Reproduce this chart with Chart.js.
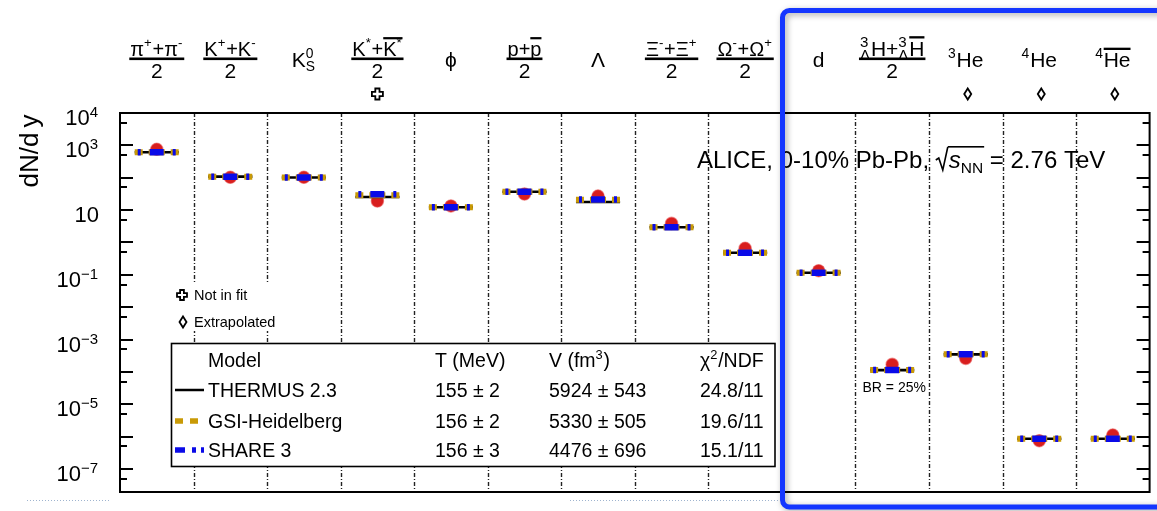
<!DOCTYPE html>
<html>
<head>
<meta charset="utf-8">
<script src="https://cdn.jsdelivr.net/npm/chart.js@4.4.1/dist/chart.umd.min.js"></script>
<style>
  html, body { margin: 0; padding: 0; background: #fff; }
  canvas { display: block; }
</style>
</head>
<body>
<canvas id="c" width="1157" height="511"></canvas>
<script>
// Particle species (TLatex-like markup: ^{} sup, _{} sub, #bar{} overline, #frac{}{})
const categories = [
  '#frac{π^{+}+π^{-}}{2}', '#frac{K^{+}+K^{-}}{2}', 'K^{0}_{S}', '#frac{K^{*}+#bar{K^{*}}}{2}',
  'ϕ', '#frac{p+#bar{p}}{2}', 'Λ', '#frac{Ξ^{-}+Ξ^{+}}{2}', '#frac{Ω^{-}+Ω^{+}}{2}',
  'd', '#frac{^{3}_{Λ}H+^{3}_{Λ}#bar{H}}{2}', '^{3}He', '^{4}He', '^{4}#bar{He}'
];
// marker under a species: 'cross' = not in fit, 'diamond' = extrapolated
const categoryMarks = ['', '', '', 'cross', '', '', '', '', '', '', '', 'diamond', 'diamond', 'diamond'];

// Measured yields dN/dy
const measured = [755, 103, 103, 19.1, 13.4, 31.4, 27.2, 3.9, 0.66, 0.134, 1.71e-4, 2.63e-4, 7.5e-7, 1.12e-6];
// Thermal model yields
const thermus = [611, 108, 102, 25.4, 12.2, 37, 17.8, 2.94, 0.48, 0.116, 1.14e-4, 3.49e-4, 8.6e-7, 8.6e-7];
const gsiHeidelberg = [611, 108, 102, 28.6, 12.2, 37, 20.9, 2.94, 0.48, 0.116, 1.14e-4, 3.49e-4, 8.6e-7, 8.6e-7];
const share3 = [611, 108, 102, 30.7, 12.2, 37, 21.3, 2.94, 0.48, 0.116, 1.14e-4, 3.49e-4, 8.6e-7, 8.6e-7];

// Y axis: labelled decades (exponents) and tick decades
const yLabelExponents = [4, 3, 1, -1, -3, -5, -7];
const yMajorExponents = [-7, -6, -5, -4, -3, -2, -1, 0, 1, 2, 3];
const yMinorExponents = [-8, -7, -6, -5, -4, -3, -2, -1, 0, 1, 2, 3];   // ticks at 5×10^n

// Fit summary table
const tableHeader = ['Model', 'T (MeV)', 'V (fm^{3})', 'χ^{2}/NDF'];
const modelNames = ['THERMUS 2.3', 'GSI-Heidelberg', 'SHARE 3'];
const modelT = ['155 ± 2', '156 ± 2', '156 ± 3'];
const modelV = ['5924 ± 543', '5330 ± 505', '4476 ± 696'];
const modelChi2 = ['24.8/11', '19.6/11', '15.1/11'];

const FONT = '"Liberation Sans", Arial, Helvetica, sans-serif';
const GOLD = '#c99a06';
const BLUE = '#0a0ae8';
const RED = '#d81e1e';

// ---------- tiny TLatex-like text renderer ----------
function parseTex(s) {
  let i = 0;
  function group() {
    if (s[i] === '{') { i++; const n = seq('}'); i++; return n; }
    return [{ t: 'text', s: s[i++] }];
  }
  function seq(end) {
    const nodes = [];
    let buf = '';
    const flush = () => { if (buf) { nodes.push({ t: 'text', s: buf }); buf = ''; } };
    while (i < s.length && s[i] !== end) {
      const c = s[i];
      if (c === '^' || c === '_') { flush(); i++; nodes.push({ t: c === '^' ? 'sup' : 'sub', c: group() }); }
      else if (s.startsWith('#frac', i)) { flush(); i += 5; const a = group(); const b = group(); nodes.push({ t: 'frac', num: a, den: b }); }
      else if (s.startsWith('#bar', i)) { flush(); i += 4; nodes.push({ t: 'bar', c: group() }); }
      else { buf += c; i++; }
    }
    flush();
    return nodes;
  }
  return seq(undefined);
}

function runTex(ctx, nodes, x, y, size, draw, opt) {
  opt = opt || {};
  const supScale = opt.supScale || 0.66;
  let w = 0;
  for (let k = 0; k < nodes.length; k++) {
    const n = nodes[k];
    if (n.t === 'text') {
      ctx.font = `${opt.italic ? 'italic ' : ''}${size}px ${FONT}`;
      if (draw) ctx.fillText(n.s, x + w, y);
      w += ctx.measureText(n.s).width;
    } else if (n.t === 'sup' || n.t === 'sub') {
      const nx = nodes[k + 1];
      const pair = nx && (nx.t === 'sup' || nx.t === 'sub') && nx.t !== n.t;
      const sup = n.t === 'sup' ? n : (pair ? nx : null);
      const sub = n.t === 'sub' ? n : (pair ? nx : null);
      const ss = size * supScale;
      let ws = 0, wb = 0;
      if (sup) ws = runTex(ctx, sup.c, x + w, y - size * 0.42, ss, draw, opt);
      if (sub) wb = runTex(ctx, sub.c, x + w, y + size * 0.2, ss, draw, opt);
      w += Math.max(ws, wb) + size * 0.04;
      if (pair) k++;
    } else if (n.t === 'bar') {
      const bw = runTex(ctx, n.c, x + w, y, size, draw, opt);
      if (draw) ctx.fillRect(x + w, y - size * 0.92, bw, Math.max(2, size * 0.11));
      w += bw;
    } else if (n.t === 'frac') {
      const wn = runTex(ctx, n.num, 0, 0, size, false, opt);
      const wd = runTex(ctx, n.den, 0, 0, size, false, opt);
      w += Math.max(wn, wd);
    }
  }
  return w;
}

function drawTex(ctx, str, x, y, size, opt) { return runTex(ctx, parseTex(str), x, y, size, true, opt); }

// ---------- marker symbols ----------
function drawCross(ctx, cx, cy, r) {
  const a = r * 0.38;
  ctx.beginPath();
  ctx.moveTo(cx - a, cy - r); ctx.lineTo(cx + a, cy - r); ctx.lineTo(cx + a, cy - a);
  ctx.lineTo(cx + r, cy - a); ctx.lineTo(cx + r, cy + a); ctx.lineTo(cx + a, cy + a);
  ctx.lineTo(cx + a, cy + r); ctx.lineTo(cx - a, cy + r); ctx.lineTo(cx - a, cy + a);
  ctx.lineTo(cx - r, cy + a); ctx.lineTo(cx - r, cy - a); ctx.lineTo(cx - a, cy - a);
  ctx.closePath();
  ctx.lineWidth = 1.8; ctx.strokeStyle = '#000'; ctx.stroke();
}
function drawDiamond(ctx, cx, cy, w, h) {
  ctx.beginPath();
  ctx.moveTo(cx, cy - h); ctx.lineTo(cx + w, cy); ctx.lineTo(cx, cy + h); ctx.lineTo(cx - w, cy);
  ctx.closePath();
  ctx.lineWidth = 1.8; ctx.strokeStyle = '#000'; ctx.stroke();
}

// ---------- model segments: one short horizontal bar per species ----------
function bars(values) {
  const out = [];
  values.forEach((v, i) => { out.push({ x: i - 0.3, y: v }, { x: i + 0.3, y: v }, { x: i + 0.5, y: null }); });
  return out;
}

// ---------- frame, separators, axis ticks and annotations ----------
const decorations = {
  id: 'decorations',
  beforeDatasetsDraw(chart) {
    const { ctx, chartArea: a, scales: { x } } = chart;
    ctx.save();
    ctx.strokeStyle = '#222';
    ctx.lineWidth = 1.4;
    ctx.setLineDash([4, 2, 1, 2]);
    for (let i = 0; i < categories.length - 1; i++) {
      const px = Math.round(x.getPixelForValue(i + 0.5)) + 0.5;
      ctx.beginPath(); ctx.moveTo(px, a.top); ctx.lineTo(px, a.bottom); ctx.stroke();
    }
    ctx.restore();
  },
  afterDatasetsDraw(chart) {
    const { ctx, chartArea: a, scales: { x, y } } = chart;
    ctx.save();
    ctx.fillStyle = '#000';
    ctx.strokeStyle = '#000';

    // frame
    ctx.lineWidth = 2;
    ctx.strokeRect(a.left, a.top, a.right - a.left, a.bottom - a.top);

    // y ticks on both sides (inward)
    const tick = (v, len) => {
      const py = Math.round(y.getPixelForValue(v));
      if (py <= a.top + 1 || py >= a.bottom - 1) return;
      ctx.beginPath();
      ctx.moveTo(a.left, py); ctx.lineTo(a.left + len, py);
      ctx.moveTo(a.right, py); ctx.lineTo(a.right - len, py);
      ctx.stroke();
    };
    yMajorExponents.forEach(e => tick(Math.pow(10, e), 13));
    yMinorExponents.forEach(e => tick(5 * Math.pow(10, e), 7));

    // y tick labels
    ctx.textBaseline = 'alphabetic';
    ctx.textAlign = 'left';
    yLabelExponents.forEach(e => {
      const py = y.getPixelForValue(Math.pow(10, e));
      const base = py + 12;
      ctx.font = `22px ${FONT}`;
      const wBase = ctx.measureText('10').width;
      if (e === 1) {
        ctx.fillText('10', 99 - wBase, base);
      } else {
        const sup = String(e).replace('-', '−');
        ctx.font = `15px ${FONT}`;
        const wSup = ctx.measureText(sup).width;
        ctx.font = `22px ${FONT}`;
        ctx.fillText('10', 98 - wSup - wBase, base);
        ctx.font = `15px ${FONT}`;
        ctx.fillText(sup, 98 - wSup, base - 8);
      }
    });

    // y axis title
    ctx.save();
    ctx.translate(38, 151);
    ctx.rotate(-Math.PI / 2);
    ctx.font = `26px ${FONT}`;
    ctx.textAlign = 'center';
    ctx.fillText('dN/d\u2009y', 0, 0);
    ctx.restore();

    // species labels above the frame
    categories.forEach((lab, i) => {
      const cx = x.getPixelForValue(i);
      const nodes = parseTex(lab);
      if (nodes.length === 1 && nodes[0].t === 'frac') {
        const f = nodes[0];
        const opt = { supScale: i === 10 ? 0.72 : 0.66 };
        const sz = i === 10 ? 21 : 20;
        const wn = runTex(ctx, f.num, 0, 0, sz, false, opt);
        const wd = runTex(ctx, f.den, 0, 0, 21, false);
        const bw = Math.max(wn, wd) + 2;
        runTex(ctx, f.num, cx - wn / 2, 55.5, sz, true, opt);
        ctx.fillRect(cx - bw / 2, 57.5, bw, 2.6);
        runTex(ctx, f.den, cx - wd / 2, 78, 21, true);
      } else {
        const w = runTex(ctx, nodes, 0, 0, 21, false);
        runTex(ctx, nodes, cx - w / 2, 67, 21, true);
      }
      if (categoryMarks[i] === 'cross') drawCross(ctx, cx, 94, 5.5);
      if (categoryMarks[i] === 'diamond') drawDiamond(ctx, cx + 2, 94, 3.5, 5.5);
    });

    // branching ratio note under the hypertriton bar
    ctx.font = `14px ${FONT}`;
    ctx.textAlign = 'center';
    ctx.fillText('BR = 25%', x.getPixelForValue(10) + 2, 392);
    ctx.textAlign = 'left';

    // collision system
    {
      let px = 697;
      const base = 168;
      ctx.font = `24px ${FONT}`;
      ctx.fillText('ALICE, 0-10% Pb-Pb, ', px, base);
      px += ctx.measureText('ALICE, 0-10% Pb-Pb, ').width;
      // square-root sign
      ctx.lineWidth = 1.6;
      ctx.beginPath();
      ctx.moveTo(px, base - 8); ctx.lineTo(px + 3, base - 10);
      ctx.lineTo(px + 7, base + 2); ctx.lineTo(px + 12, base - 21);
      ctx.stroke();
      const x0 = px + 12;
      px = x0 + 1;
      ctx.font = `italic 24px ${FONT}`;
      ctx.fillText('s', px, base);
      px += ctx.measureText('s').width;
      ctx.font = `15.5px ${FONT}`;
      ctx.fillText('NN', px, base + 5);
      px += ctx.measureText('NN').width;
      ctx.fillRect(x0, base - 22, px - x0 + 1, 1.6);
      ctx.font = `24px ${FONT}`;
      ctx.fillText(' = 2.76 TeV', px, base);
    }

    // fit notes
    ctx.fillStyle = '#fff';
    ctx.fillRect(172, 283, 112, 48);
    ctx.fillStyle = '#000';
    drawCross(ctx, 182, 295, 5);
    drawDiamond(ctx, 183, 322, 3.5, 5.5);
    ctx.font = `14.5px ${FONT}`;
    ctx.fillText('Not in fit', 194, 300);
    ctx.fillText('Extrapolated', 194, 327);

    // fit summary table
    ctx.fillStyle = '#fff';
    ctx.fillRect(171.5, 343.5, 603.5, 123);
    ctx.lineWidth = 1.6;
    ctx.strokeStyle = '#000';
    ctx.strokeRect(171.5, 343.5, 603.5, 123);
    ctx.fillStyle = '#000';
    const colX = [208, 435, 549, 700];
    const rowY = [360, 390, 421, 450];
    tableHeader.forEach((h, j) => drawTex(ctx, h, colX[j], rowY[0] + 7, 19.5));
    modelNames.forEach((nm, r) => {
      const b = rowY[r + 1] + 7;
      drawTex(ctx, nm, colX[0], b, 19.5);
      drawTex(ctx, modelT[r], colX[1], b, 19.5);
      drawTex(ctx, modelV[r], colX[2], b, 19.5);
      drawTex(ctx, modelChi2[r], colX[3], b, 19.5);
    });
    // table line samples
    const sample = (yy, color, width, dash) => {
      ctx.strokeStyle = color; ctx.lineWidth = width; ctx.setLineDash(dash);
      ctx.beginPath(); ctx.moveTo(175, yy); ctx.lineTo(204, yy); ctx.stroke();
    };
    sample(rowY[1], '#000', 2.5, []);
    sample(rowY[2], GOLD, 5.5, [8, 7]);
    sample(rowY[3], BLUE, 5.5, [10, 7, 4, 5]);
    ctx.setLineDash([]);

    // faint dotted rules along the bottom
    ctx.strokeStyle = '#9fb4cf';
    ctx.lineWidth = 1;
    ctx.setLineDash([1, 2]);
    ctx.beginPath();
    ctx.moveTo(27, 500.5); ctx.lineTo(110, 500.5);
    ctx.moveTo(570, 500.5); ctx.lineTo(780, 500.5);
    ctx.stroke();
    ctx.setLineDash([]);

    // highlight box around the light (anti)nuclei
    ctx.shadowColor = 'rgba(0,0,0,0.35)';
    ctx.shadowBlur = 6;
    ctx.shadowOffsetX = 2;
    ctx.shadowOffsetY = 2;
    ctx.strokeStyle = '#1436ff';
    ctx.lineWidth = 5;
    ctx.beginPath();
    ctx.roundRect(782.5, 10.5, 420, 496.5, 7);
    ctx.stroke();
    ctx.restore();
  }
};

new Chart(document.getElementById('c').getContext('2d'), {
  type: 'line',
  data: {
    datasets: [
      {
        label: 'ALICE', type: 'scatter', showLine: false,
        data: measured.map((v, i) => ({ x: i, y: v })),
        pointRadius: 6.2, pointBackgroundColor: RED,
        pointBorderColor: 'rgba(232,80,80,0.55)', pointBorderWidth: 1.2,
        order: 4
      },
      {
        label: modelNames[0], data: bars(thermus),
        borderColor: '#000', borderWidth: 2.6, pointRadius: 0, spanGaps: false, order: 3
      },
      {
        label: modelNames[1], data: bars(gsiHeidelberg),
        borderColor: GOLD, borderWidth: 6, borderDash: [8, 6, 16, 6],
        pointRadius: 0, spanGaps: false, order: 2
      },
      {
        label: modelNames[2], data: bars(share3),
        borderColor: BLUE, borderWidth: 6.5, borderDash: [3, 9, 14, 9], borderDashOffset: 32,
        pointRadius: 0, spanGaps: false, order: 1
      }
    ]
  },
  options: {
    responsive: false,
    animation: false,
    devicePixelRatio: 1,
    events: [],
    layout: { padding: { left: 120, top: 113, right: 5, bottom: 19 } },
    plugins: { legend: { display: false }, tooltip: { enabled: false } },
    scales: {
      x: { type: 'linear', min: -0.5, max: 13.5, display: false },
      y: { type: 'logarithmic', min: Math.pow(10, -7.71), max: 1e4, display: false }
    }
  },
  plugins: [decorations]
});
</script>
</body>
</html>
